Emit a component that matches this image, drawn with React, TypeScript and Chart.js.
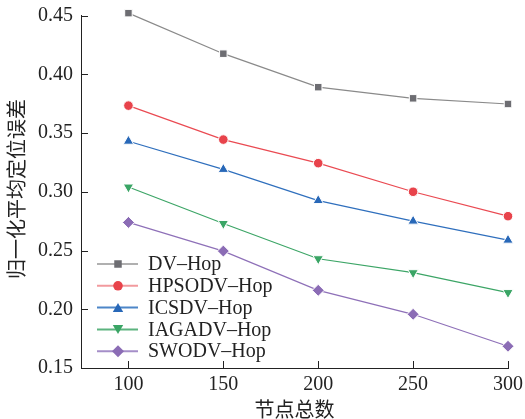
import React, { useEffect, useRef } from "react";
import { Chart, registerables } from "chart.js";

Chart.register(...registerables);

const nodeCounts = [100, 150, 200, 250, 300];
const dvHop = [0.452, 0.4175, 0.389, 0.3795, 0.3747];
const hpsodvHop = [0.3733, 0.3444, 0.3243, 0.3, 0.2792];
const icsdvHop = [0.343, 0.319, 0.2925, 0.275, 0.2588];
const iagadvHop = [0.304, 0.273, 0.243, 0.2311, 0.2142];
const swodvHop = [0.2739, 0.2495, 0.2161, 0.1957, 0.1685];
const seriesNames = ["DV–Hop", "HPSODV–Hop", "ICSDV–Hop", "IAGADV–Hop", "SWODV–Hop"];
const yTicks = [0.15, 0.2, 0.25, 0.3, 0.35, 0.4, 0.45];
const xTitle = "节点总数";
const yTitle = "归一化平均定位误差";

const SERIF = '"Liberation Serif", "Times New Roman", serif';
const CJK = '"Noto Sans CJK SC", sans-serif';

const styles = [
  { line: "#8a8a8a", legendLine: "#b0b0b0", fill: "#6d6d72", shape: "rect", radius: 5.3, rotation: 0 },
  { line: "#ea4a52", legendLine: "#f29a9e", fill: "#e8434b", shape: "circle", radius: 4.8, rotation: 0 },
  { line: "#2f6fbd", legendLine: "#4d86c8", fill: "#2868b8", shape: "triangle", radius: 6, rotation: 0 },
  { line: "#3ca566", legendLine: "#5cb37f", fill: "#3aa565", shape: "triangle", radius: 6, rotation: 180 },
  { line: "#8e70b8", legendLine: "#a58ec8", fill: "#8b6cb5", shape: "rectRot", radius: 6, rotation: 0 },
];

const allSeries = [dvHop, hpsodvHop, icsdvHop, iagadvHop, swodvHop];

function drawMarker(ctx: CanvasRenderingContext2D, shape: string, r: number, rot: number, x: number, y: number) {
  ctx.beginPath();
  if (shape === "rect") {
    const s = Math.SQRT1_2 * r;
    ctx.rect(x - s, y - s, 2 * s, 2 * s);
  } else if (shape === "circle") {
    ctx.arc(x, y, r, 0, Math.PI * 2);
  } else if (shape === "triangle") {
    const a = (rot * Math.PI) / 180;
    for (let k = 0; k < 3; k++) {
      const ang = a - Math.PI / 2 + (k * 2 * Math.PI) / 3;
      const px = x + Math.cos(ang) * r;
      const py = y + Math.sin(ang) * r + (rot === 0 ? r * 0.25 : -r * 0.25);
      if (k === 0) ctx.moveTo(px, py);
      else ctx.lineTo(px, py);
    }
    ctx.closePath();
  } else {
    ctx.moveTo(x, y - r);
    ctx.lineTo(x + r, y);
    ctx.lineTo(x, y + r);
    ctx.lineTo(x - r, y);
    ctx.closePath();
  }
  ctx.fill();
}

const decorPlugin = {
  id: "decor",
  afterDraw(chart: any) {
    const ctx = chart.ctx;
    const area = chart.chartArea;
    const xs = chart.scales.x;
    const ys = chart.scales.y;
    ctx.save();
    // inward ticks
    ctx.strokeStyle = "#222";
    ctx.lineWidth = 1;
    ctx.beginPath();
    nodeCounts.forEach((v) => {
      const px = Math.round(xs.getPixelForValue(v)) + 0.5;
      ctx.moveTo(px, area.bottom);
      ctx.lineTo(px, area.bottom - 7);
    });
    yTicks.forEach((v) => {
      const py = Math.round(ys.getPixelForValue(v)) + 0.5;
      ctx.moveTo(area.left, py);
      ctx.lineTo(area.left + 7, py);
    });
    ctx.stroke();

    // legend
    const lx0 = area.left + 16;
    const lx1 = area.left + 57;
    const mx = area.left + 37;
    const tx = area.left + 67;
    const rowY0 = area.bottom - 104;
    const rowH = 21.8;
    ctx.font = `20px ${SERIF}`;
    ctx.textBaseline = "middle";
    ctx.textAlign = "left";
    seriesNames.forEach((name, i) => {
      const st = styles[i];
      const y = rowY0 + i * rowH;
      ctx.strokeStyle = st.legendLine;
      ctx.lineWidth = 2;
      ctx.beginPath();
      ctx.moveTo(lx0, y);
      ctx.lineTo(lx1, y);
      ctx.stroke();
      ctx.fillStyle = st.fill;
      drawMarker(ctx, st.shape, st.radius, st.rotation, mx, y);
      ctx.fillStyle = "#222";
      ctx.fillText(name, tx, y + 1);
    });

    // axis titles
    ctx.fillStyle = "#222";
    ctx.font = `20px ${CJK}`;
    ctx.textAlign = "center";
    ctx.textBaseline = "middle";
    ctx.fillText(xTitle, (area.left + area.right) / 2, 409);
    ctx.save();
    ctx.translate(16, 189);
    ctx.rotate(-Math.PI / 2);
    ctx.fillText(yTitle, 0, 0);
    ctx.restore();
    ctx.restore();
  },
};

export default function App() {
  const ref = useRef<HTMLCanvasElement>(null);
  useEffect(() => {
    if (!ref.current) return;
    const chart = new Chart(ref.current, {
      type: "line",
      data: {
        datasets: allSeries.map((vals, i) => ({
          label: seriesNames[i],
          data: vals.map((v, j) => ({ x: nodeCounts[j], y: v })),
          borderColor: styles[i].line,
          borderWidth: 1.2,
          backgroundColor: styles[i].fill,
          pointBackgroundColor: styles[i].fill,
          pointBorderColor: "#ffffff",
          pointBorderWidth: 1,
          pointStyle: styles[i].shape as any,
          pointRadius: styles[i].radius,
          pointRotation: styles[i].rotation,
          pointHoverRadius: styles[i].radius,
          tension: 0,
          clip: false as any,
        })),
      },
      options: {
        animation: false,
        responsive: false,
        maintainAspectRatio: false,
        layout: { padding: { top: 15.5, right: 17, left: 0, bottom: 0 } },
        plugins: { legend: { display: false }, tooltip: { enabled: false } },
        scales: {
          x: {
            type: "linear",
            min: 75,
            max: 300,
            afterBuildTicks: (s: any) => {
              s.ticks = nodeCounts.map((v) => ({ value: v }));
            },
            afterFit: (s: any) => {
              s.height = 51;
              s.paddingLeft = 0;
              s.paddingRight = 0;
            },
            grid: { display: false, drawTicks: false },
            border: { display: true, color: "#222", width: 1 },
            ticks: {
              color: "#222",
              font: { family: SERIF, size: 20 },
              padding: 5,
              maxRotation: 0,
            },
          },
          y: {
            type: "linear",
            min: 0.15,
            max: 0.45,
            afterBuildTicks: (s: any) => {
              s.ticks = yTicks.map((v) => ({ value: v }));
            },
            afterFit: (s: any) => {
              s.width = 81;
              s.paddingTop = 0;
              s.paddingBottom = 0;
            },
            grid: { display: false, drawTicks: false },
            border: { display: true, color: "#222", width: 1 },
            ticks: {
              color: "#222",
              font: { family: SERIF, size: 20 },
              padding: 8,
              callback: (v: any) => Number(v).toFixed(2),
            },
          },
        },
      },
      plugins: [decorPlugin],
    });
    return () => chart.destroy();
  }, []);
  return (
    <div style={{ position: "fixed", left: 0, top: 0, width: 525, height: 419, background: "#fff" }}>
      <canvas ref={ref} width={525} height={419} style={{ width: 525, height: 419 }} />
    </div>
  );
}
